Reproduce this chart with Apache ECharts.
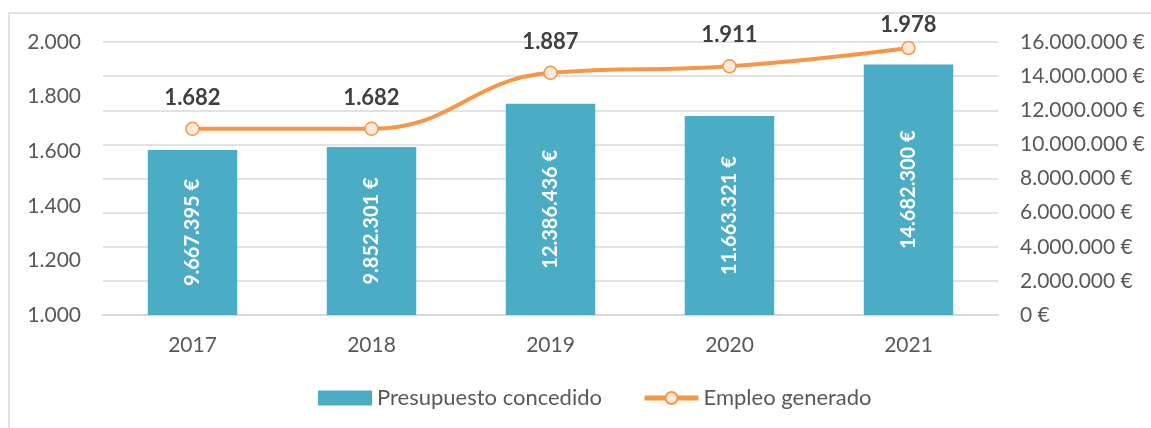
<!DOCTYPE html>
<html>
<head>
<meta charset="utf-8">
<script src="https://cdn.jsdelivr.net/npm/echarts@6/dist/echarts.min.js"></script>
<style>
html, body { margin: 0; padding: 0; background: #fff; }
#chart { width: 1151px; height: 428px; }
</style>
</head>
<body>
<div id="chart"></div>
<script>
var years = ['2017', '2018', '2019', '2020', '2021'];
var presupuesto = [9667395, 9852301, 12386436, 11663321, 14682300];
var empleo = [1682, 1682, 1887, 1911, 1978];

function miles(n) {
	return String(Math.round(n)).replace(/\B(?=(\d{3})+(?!\d))/g, '.');
}

var dom = document.getElementById('chart');
var myChart = echarts.init(dom);
var font = 'Lato, "Open Sans", sans-serif';

// last label sits closer to its point (chart top edge)
var empleoData = empleo.map(function (v, i) {
	if (i === empleo.length - 1) {
		return { value: v, label: { distance: 5 } };
	}
	return v;
});

var option = {
	animation: false,
	textStyle: { fontFamily: font },
	graphic: [{
		type: 'rect',
		shape: { x: 9, y: 13, width: 1160, height: 430 },
		style: { fill: 'none', stroke: '#d9d9d9', lineWidth: 1.5 }
	}],
	legend: {
		bottom: 14,
		left: 313,
		itemGap: 40,
		itemWidth: 54,
		itemHeight: 15,
		textStyle: { color: '#595959', fontSize: 22, fontFamily: font },
		data: [
			{ name: 'Presupuesto concedido', icon: 'rect' },
			{ name: 'Empleo generado', lineStyle: { width: 5 } }
		]
	},
	grid: { left: 103, right: 153, top: 42, bottom: 113 },
	xAxis: {
		type: 'category',
		data: years,
		axisLine: { lineStyle: { color: '#d9d9d9', width: 2 } },
		axisTick: { show: false },
		axisLabel: { color: '#595959', fontSize: 21, margin: 20 }
	},
	yAxis: [{
		type: 'value',
		min: 1000, max: 2000, interval: 200,
		splitLine: { show: false },
		axisLabel: { color: '#595959', fontSize: 21, margin: 22, formatter: function (v) { return miles(v); } }
	}, {
		type: 'value',
		min: 0, max: 16000000, interval: 2000000,
		splitLine: { lineStyle: { color: '#d9d9d9', width: 1.5 } },
		axisLabel: { color: '#595959', fontSize: 21, margin: 22, formatter: function (v) { return miles(v) + ' €'; } }
	}],
	series: [{
		name: 'Presupuesto concedido',
		type: 'bar',
		yAxisIndex: 1,
		barWidth: '50%',
		itemStyle: { color: '#4BACC6' },
		label: {
			show: true,
			position: 'inside',
			rotate: 90,
			color: '#fff',
			fontWeight: 'bold',
			fontSize: 20,
			formatter: function (p) { return miles(p.value) + ' €'; }
		},
		data: presupuesto
	}, {
		name: 'Empleo generado',
		type: 'line',
		yAxisIndex: 0,
		smooth: 0.45,
		symbol: 'circle',
		symbolSize: 13,
		lineStyle: { color: '#F79646', width: 4 },
		itemStyle: { color: '#FDE9D9', borderColor: '#F79646', borderWidth: 1.5 },
		label: {
			show: true,
			position: 'top',
			distance: 13,
			color: '#404040',
			fontWeight: 'bold',
			fontSize: 22,
			formatter: function (p) { return miles(p.value); }
		},
		data: empleoData
	}]
};

myChart.setOption(option);
window.onresize = function () { myChart.resize(); };
</script>
</body>
</html>
